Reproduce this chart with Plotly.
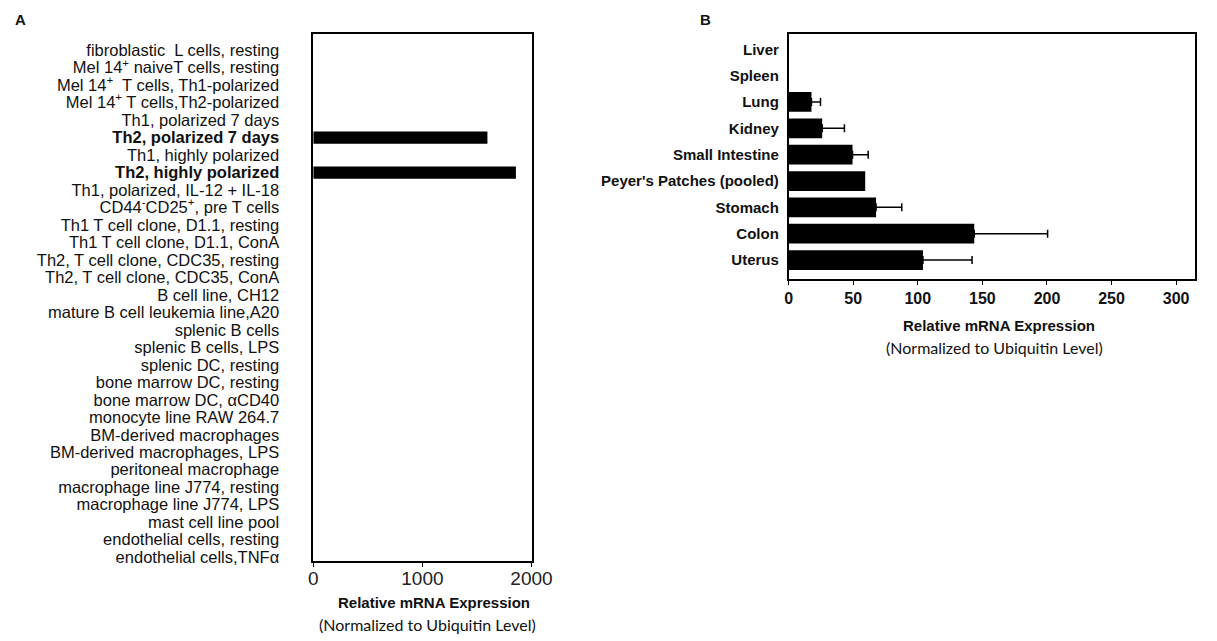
import plotly.graph_objects as go

# ---------------- data ----------------
cells = [
    "fibroblastic  L cells, resting",
    "Mel 14+ naiveT cells, resting",
    "Mel 14+  T cells, Th1-polarized",
    "Mel 14+ T cells,Th2-polarized",
    "Th1, polarized 7 days",
    "Th2, polarized 7 days",
    "Th1, highly polarized",
    "Th2, highly polarized",
    "Th1, polarized, IL-12 + IL-18",
    "CD44-CD25+, pre T cells",
    "Th1 T cell clone, D1.1, resting",
    "Th1 T cell clone, D1.1, ConA",
    "Th2, T cell clone, CDC35, resting",
    "Th2, T cell clone, CDC35, ConA",
    "B cell line, CH12",
    "mature B cell leukemia line,A20",
    "splenic B cells",
    "splenic B cells, LPS",
    "splenic DC, resting",
    "bone marrow DC, resting",
    "bone marrow DC, \u03b1CD40",
    "monocyte line RAW 264.7",
    "BM-derived macrophages",
    "BM-derived macrophages, LPS",
    "peritoneal macrophage",
    "macrophage line J774, resting",
    "macrophage line J774, LPS",
    "mast cell line pool",
    "endothelial cells, resting",
    "endothelial cells,TNF\u03b1",
]
cell_tick_text = [
    "fibroblastic  L cells, resting",
    "Mel 14<sup>+</sup> naiveT cells, resting",
    "Mel 14<sup>+</sup>  T cells, Th1-polarized",
    "Mel 14<sup>+</sup> T cells,Th2-polarized",
    "Th1, polarized 7 days",
    "<b>Th2, polarized 7 days</b>",
    "Th1, highly polarized",
    "<b>Th2, highly polarized</b>",
    "Th1, polarized, IL-12 + IL-18",
    "CD44<sup>-</sup>CD25<sup>+</sup>, pre T cells",
    "Th1 T cell clone, D1.1, resting",
    "Th1 T cell clone, D1.1, ConA",
    "Th2, T cell clone, CDC35, resting",
    "Th2, T cell clone, CDC35, ConA",
    "B cell line, CH12",
    "mature B cell leukemia line,A20",
    "splenic B cells",
    "splenic B cells, LPS",
    "splenic DC, resting",
    "bone marrow DC, resting",
    "bone marrow DC, \u03b1CD40",
    "monocyte line RAW 264.7",
    "BM-derived macrophages",
    "BM-derived macrophages, LPS",
    "peritoneal macrophage",
    "macrophage line J774, resting",
    "macrophage line J774, LPS",
    "mast cell line pool",
    "endothelial cells, resting",
    "endothelial cells,TNF\u03b1",
]
cell_values = [0, 0, 0, 0, 0, 1596, 0, 1857, 0, 0,
               0, 0, 0, 0, 0, 0, 0, 0, 0, 0,
               0, 0, 0, 0, 0, 0, 0, 0, 0, 0]

tissues = ["Liver", "Spleen", "Lung", "Kidney", "Small Intestine",
           "Peyer's Patches (pooled)", "Stomach", "Colon", "Uterus"]
tissue_values = [0, 0, 17.7, 26, 49.5, 59.3, 67.7, 143.7, 104]
# upper end of the error bar (None = no error bar shown)
tissue_err_top = [None, None, 24.7, 43.2, 61.6, None, 87.6, 200.5, 142]

a_ticks = [0, 1000, 2000]
b_ticks = [0, 50, 100, 150, 200, 250, 300]

# ---------------- figure ----------------
W, H = 1217, 641
FONT = "Liberation Sans, Arial, sans-serif"

def fx(px):
    return px / W

def fy(py):
    return 1 - py / H

fig = go.Figure()

fig.add_trace(go.Bar(
    x=cell_values, y=cells, orientation="h",
    marker=dict(color="black", line=dict(width=0)),
    width=0.7, xaxis="x", yaxis="y", showlegend=False, hoverinfo="skip",
))

fig.add_trace(go.Bar(
    x=tissue_values, y=tissues, orientation="h",
    marker=dict(color="black", line=dict(width=0)),
    width=0.75, xaxis="x2", yaxis="y2", showlegend=False,
))

# error bars only where the reference shows them
err_y = [t for t, e in zip(tissues, tissue_err_top) if e is not None]
err_x = [v for v, e in zip(tissue_values, tissue_err_top) if e is not None]
err_plus = [e - v for v, e in zip(tissue_values, tissue_err_top) if e is not None]
fig.add_trace(go.Scatter(
    x=err_x, y=err_y, mode="markers",
    marker=dict(size=1, color="black"),
    xaxis="x2", yaxis="y2", showlegend=False, hoverinfo="skip",
    error_x=dict(type="data", array=err_plus, symmetric=False,
                 arrayminus=[0] * len(err_plus),
                 color="black", thickness=1.5, width=4, visible=True),
))

axis_line = dict(showline=True, linecolor="black", linewidth=1.5,
                 mirror=True, showgrid=False, zeroline=False)

fig.update_layout(
    autosize=True,
    margin=dict(l=0, r=0, t=0, b=0),
    plot_bgcolor="white", paper_bgcolor="white",
    xaxis=dict(domain=[fx(315), fx(538)], range=[0, 2000],
               tickvals=a_ticks, ticks="outside", ticklen=5,
               tickcolor="black", tickwidth=1.2,
               tickfont=dict(family=FONT, size=19, color="#222"),
               ticklabelstandoff=-5,
               anchor="y", **axis_line),
    yaxis=dict(domain=[fy(565), fy(34)], range=[29.2, -0.94],
               type="category", tickvals=cells, ticktext=cell_tick_text,
               ticks="", ticklabelstandoff=29,
               tickfont=dict(family=FONT, size=16.5, color="#111"),
               anchor="x", **axis_line),
    xaxis2=dict(domain=[fx(800.7), fx(1216)], range=[0, 314.6],
                tickvals=b_ticks, ticks="outside", ticklen=5,
                tickcolor="black", tickwidth=1.2,
                tickfont=dict(family=FONT, size=16, color="#111", weight="bold"),
                anchor="y2", **axis_line),
    yaxis2=dict(domain=[fy(280.7), fy(34)], range=[8.70, -0.59],
                type="category", categoryorder="array", categoryarray=tissues,
                ticks="", ticklabelstandoff=5,
                tickfont=dict(family=FONT, size=15, color="#111", weight="bold"),
                anchor="x2", **axis_line),
)

def note(text, px, py, size, family=FONT):
    return dict(text=text, x=fx(px), y=fy(py), xref="paper", yref="paper",
                xanchor="center", yanchor="middle", showarrow=False,
                font=dict(family=family, size=size, color="#111"))

ann = [
    note("<b>A</b>", 16, 20, 15),
    note("<b>B</b>", 716, 20, 15),
    note("<b>Relative mRNA Expression</b>", 438, 607, 15),
    note("(Normalized to Ubiquitin Level)", 432, 629, 16, "Lato, sans-serif"),
    note("<b>Relative mRNA Expression</b>", 1016, 328, 15),
    note("(Normalized to Ubiquitin Level)", 1011, 350, 16, "Lato, sans-serif"),
]
fig.update_layout(annotations=ann)

post = ("document.documentElement.style.height='100%';"
        "document.documentElement.style.overflow='hidden';"
        "document.body.style.margin='0';"
        "document.body.style.padding='0';"
        "document.body.style.height='100%';"
        "document.body.style.overflow='hidden';"
        "var gd=document.getElementById('{plot_id}');"
        "gd.parentElement.style.height='100%';"
        "gd.parentElement.style.width='100%';"
        "gd.style.height='100%';gd.style.width='100%';"
        "Plotly.Plots.resize(gd);")

fig.write_html("out.html",
               config={"responsive": True, "displayModeBar": False},
               default_width="100%", default_height="100%",
               post_script=post)
